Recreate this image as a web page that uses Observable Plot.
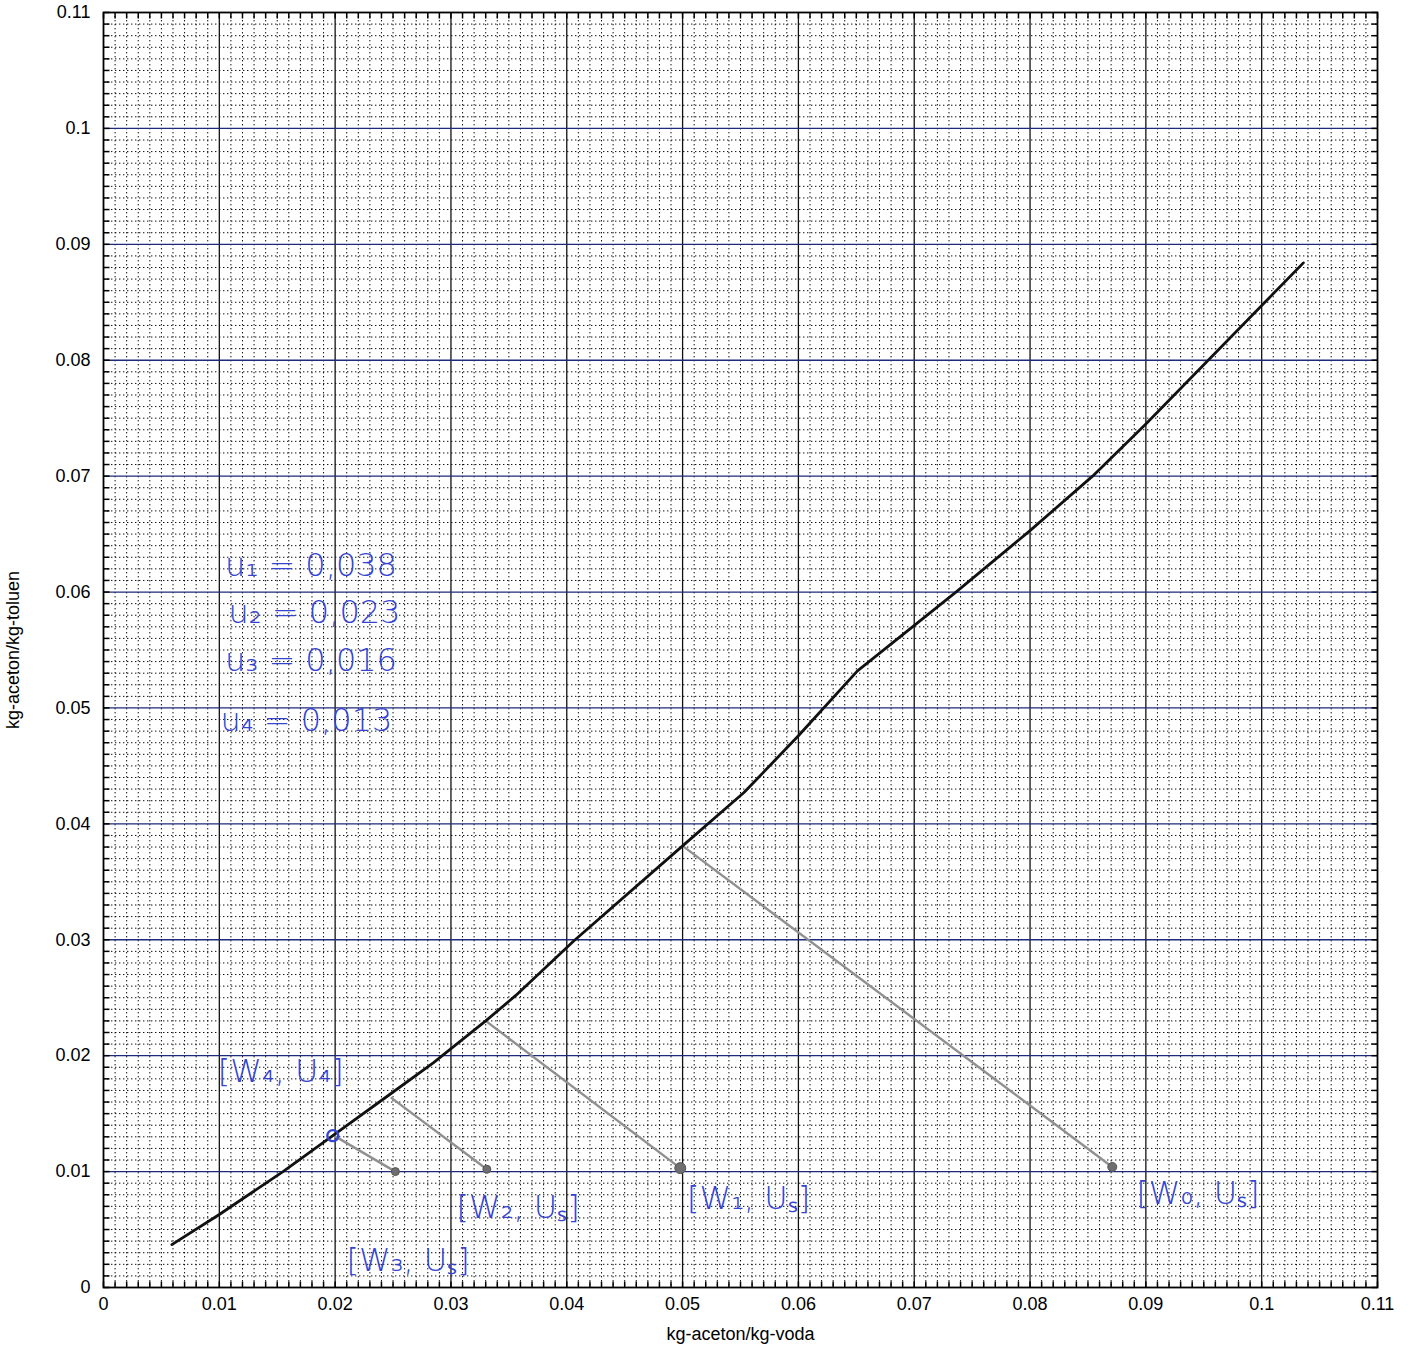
<!DOCTYPE html>
<html>
<head>
<meta charset="utf-8">
<script src="https://cdn.jsdelivr.net/npm/d3@7"></script>
<script src="https://cdn.jsdelivr.net/npm/@observablehq/plot@0.6"></script>
<style>
  html, body { margin: 0; padding: 0; background: #fff; }
  #chart svg { display: block; }
</style>
</head>
<body>
<div id="chart"></div>
<script>
// ---- tick labels ----
const xTicks = [0, 0.01, 0.02, 0.03, 0.04, 0.05, 0.06, 0.07, 0.08, 0.09, 0.1, 0.11];
const yTicks = [0, 0.01, 0.02, 0.03, 0.04, 0.05, 0.06, 0.07, 0.08, 0.09, 0.1, 0.11];
const minorStep = 0.001;

// ---- equilibrium curve ----
const curveX = [0.0059, 0.0100, 0.0155, 0.0198, 0.0245, 0.0285, 0.0330, 0.0356, 0.0406, 0.0500, 0.0553, 0.0600, 0.0651, 0.0736, 0.0800, 0.0854, 0.0900, 0.1036];
const curveY = [0.0037, 0.0063, 0.0100, 0.0131, 0.0165, 0.0194, 0.0230, 0.0252, 0.0299, 0.0381, 0.0427, 0.0476, 0.0532, 0.0600, 0.0653, 0.0700, 0.0745, 0.0884];

// ---- operating lines (stage construction) ----
const opX1 = [0.0500, 0.0330, 0.0248, 0.0199];
const opY1 = [0.0381, 0.0230, 0.0164, 0.0131];
const opX2 = [0.0871, 0.0498, 0.0331, 0.0252];
const opY2 = [0.0104, 0.0103, 0.0102, 0.0100];
const opDotR = [4.5, 5.5, 4, 4];

// ---- marked point u4 ----
const markX = [0.0198];
const markY = [0.0131];

// ---- handwritten annotations ----
const noteText = ["u₁ = 0,038", "u₂ = 0,023", "u₃ = 0,016", "u₄ = 0,013"];
const noteX = [0.0105, 0.0108, 0.0105, 0.0101];
const noteY = [0.0623, 0.0582, 0.0541, 0.0489];

const pairText = ["[W₄, U₄]", "[W₃, Uₛ]", "[W₂, Uₛ]", "[W₁, Uₛ]", "[W₀, Uₛ]"];
const pairX = [0.0153, 0.0263, 0.0358, 0.0557, 0.0945];
const pairY = [0.0186, 0.0023, 0.0069, 0.0077, 0.0081];

const xLabel = "kg-aceton/kg-voda";
const yLabel = "kg-aceton/kg-toluen";

// ---- derived tables ----
const curve = curveX.map((x, i) => ({x, y: curveY[i]}));
const ops = opX1.map((x1, i) => ({x1, y1: opY1[i], x2: opX2[i], y2: opY2[i], r: opDotR[i]}));
const notes = noteText.map((t, i) => ({t, x: noteX[i], y: noteY[i]}));
const pairs = pairText.map((t, i) => ({t, x: pairX[i], y: pairY[i]}));
const marks = markX.map((x, i) => ({x, y: markY[i]}));

const nMinor = Math.round(0.11 / minorStep);
const minorAll = d3.range(0, nMinor + 1).map(i => +(i * minorStep).toFixed(3));
const minorOnly = minorAll.filter((d, i) => i % 10 !== 0);
const majorInnerX = xTicks.slice(1, -1);
const majorInnerY = yTicks.slice(1, -1);

const tickLen = 6;
const tickUp = {draw(ctx) { ctx.moveTo(0, 0); ctx.lineTo(0, -tickLen); }};
const tickDown = {draw(ctx) { ctx.moveTo(0, 0); ctx.lineTo(0, tickLen); }};
const tickRight = {draw(ctx) { ctx.moveTo(0, 0); ctx.lineTo(tickLen, 0); }};
const tickLeft = {draw(ctx) { ctx.moveTo(0, 0); ctx.lineTo(-tickLen, 0); }};

const ink = "#3444d0";
const fmt = d => String(d);

const chart = Plot.plot({
  width: 1414,
  height: 1345,
  marginLeft: 103,
  marginRight: 37,
  marginTop: 12,
  marginBottom: 58,
  x: {domain: [0, 0.11]},
  y: {domain: [0, 0.11]},
  r: {type: "identity"},
  style: {fontFamily: "'Liberation Sans', Arial, sans-serif", fontSize: "17px", background: "#fff", color: "#000"},
  marks: [
    // minor dotted grid
    Plot.ruleX(minorOnly, {x: d => d, stroke: "#000", strokeWidth: 1, strokeDasharray: "1.4,2.6", strokeOpacity: 0.95}),
    Plot.ruleY(minorOnly, {y: d => d, stroke: "#000", strokeWidth: 1, strokeDasharray: "1.4,2.6", strokeOpacity: 0.95}),
    // major grid
    Plot.ruleX(majorInnerX, {x: d => d, stroke: "#111", strokeWidth: 1.3}),
    Plot.ruleY(majorInnerY, {y: d => d, stroke: "#1d2a7a", strokeWidth: 1.3}),
    // inner ticks on all four sides
    Plot.dot(minorAll, {x: d => d, y: () => 0, symbol: tickUp, stroke: "#000", strokeWidth: 1.5, fill: "none"}),
    Plot.dot(minorAll, {x: d => d, y: () => 0.11, symbol: tickDown, stroke: "#000", strokeWidth: 1.5, fill: "none"}),
    Plot.dot(minorAll, {y: d => d, x: () => 0, symbol: tickRight, stroke: "#000", strokeWidth: 1.5, fill: "none"}),
    Plot.dot(minorAll, {y: d => d, x: () => 0.11, symbol: tickLeft, stroke: "#000", strokeWidth: 1.5, fill: "none"}),
    Plot.frame({stroke: "#000", strokeWidth: 1.8}),
    // axes
    Plot.axisX({ticks: xTicks, tickSize: 0, tickPadding: 10, tickFormat: fmt, fontSize: 18,
      label: xLabel, labelAnchor: "center", labelArrow: "none", labelOffset: 52}),
    Plot.axisY({ticks: yTicks, tickSize: 0, tickPadding: 13, tickFormat: fmt, fontSize: 18,
      label: yLabel, labelAnchor: "center", labelArrow: "none", labelOffset: 97}),
    // operating lines
    Plot.link(ops, {x1: "x1", y1: "y1", x2: "x2", y2: "y2", stroke: "#909090", strokeWidth: 2.4}),
    Plot.dot(ops, {x: "x2", y: "y2", r: "r", fill: "#6e6e6e", stroke: "#555", strokeWidth: 1}),
    // equilibrium curve
    Plot.line(curve, {x: "x", y: "y", stroke: "#111", strokeWidth: 2.8, strokeLinejoin: "round"}),
    // marked point
    Plot.dot(marks, {x: "x", y: "y", r: 5.5, stroke: ink, strokeWidth: 2.4, fill: "none"}),
    // annotations
    Plot.text(notes, {x: "x", y: "y", text: "t", textAnchor: "start", fill: ink, fontSize: 32,
      fontFamily: "'DejaVu Sans', sans-serif", fontWeight: 300}),
    Plot.text(pairs, {x: "x", y: "y", text: "t", textAnchor: "middle", fill: ink, fontSize: 32,
      fontFamily: "'DejaVu Sans', sans-serif", fontWeight: 300})
  ]
});
document.getElementById("chart").appendChild(chart);
</script>
</body>
</html>
